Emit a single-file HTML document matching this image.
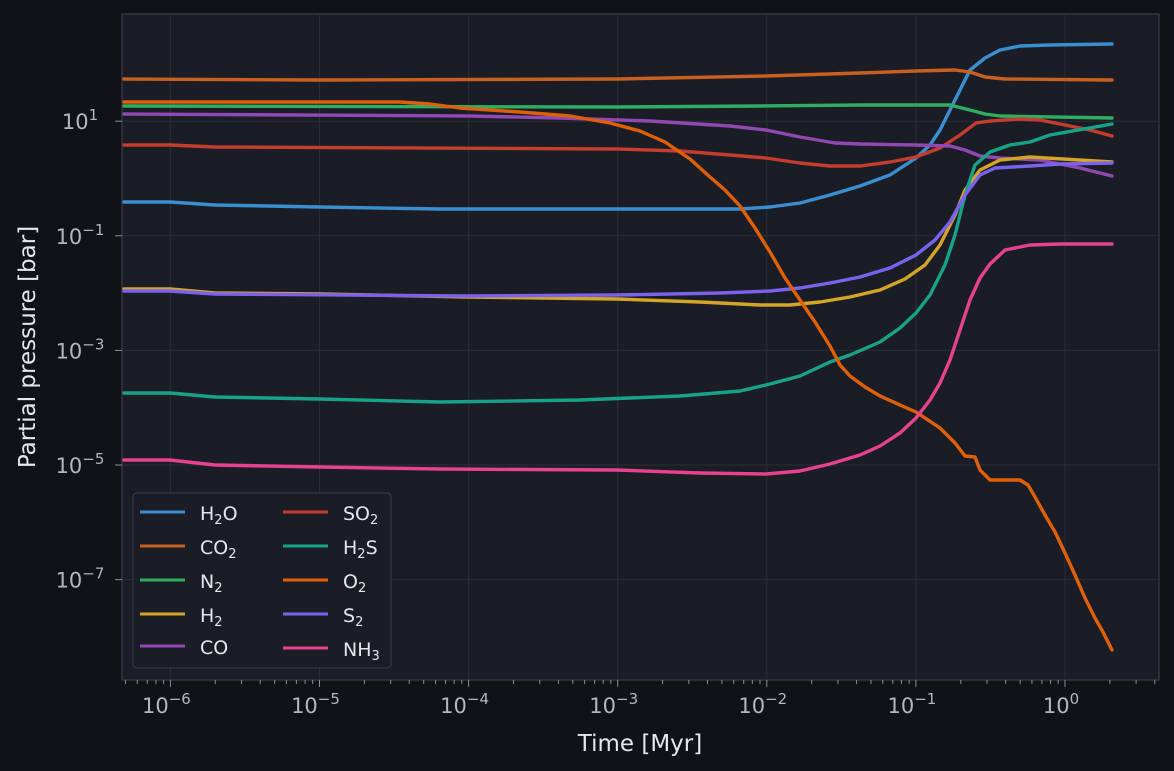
<!DOCTYPE html><html><head><meta charset="utf-8"><style>
html,body{margin:0;background:#111217;width:1174px;height:771px;overflow:hidden;font-family:"Liberation Sans","DejaVu Sans",sans-serif}
svg{display:block}
</style></head><body>
<svg id="s" width="1174" height="771" xmlns="http://www.w3.org/2000/svg" font-family="DejaVu Sans, Liberation Sans, sans-serif">
<rect width="1174" height="771" fill="#111217"/>
<rect x="122" y="14" width="1037" height="666" fill="#1b1d26" stroke="#3a3d4b" stroke-width="1.2"/>
<g id="grid" stroke="#2a2d38" stroke-width="1"></g>
<g id="ticks" stroke="#8a8d96" stroke-width="1"></g>
<g id="lbl" fill="#b4b7bf" font-size="21"></g>
<g fill="none" stroke-width="3.4" stroke-linejoin="round" stroke-linecap="round">
<polyline stroke="#3a8fd0" points="124,202 170,202 215,205 320,207 440,209 617,209 740,209 770,207 800,203 830,195 860,186 890,175 916,158 930,145 940,130 950,110 960,90 970,70 985,58 1000,50 1020,46 1050,45 1112,44"/>
<polyline stroke="#c9601f" points="124,79 320,80 617,79 766,76 860,73 916,71 955,70 970,72 985,77 1005,79 1112,80"/>
<polyline stroke="#2eae62" points="124,106 617,107 760,106 860,105 950,105 970,110 985,114 1000,116 1112,118"/>
<polyline stroke="#c43d2d" points="124,145 170,145 215,147 617,149 680,151 730,155 766,158 800,163 830,166 860,166 890,162 916,157 940,148 960,135 976,123 990,121 1020,119 1040,120 1060,124 1090,130 1112,136"/>
<polyline stroke="#9048b2" points="124,114 300,115 470,116 560,118 650,121 730,126 766,130 800,137 835,143 860,144 916,145 950,146 965,150 980,156 1000,158 1040,160 1080,168 1112,176"/>
<polyline stroke="#d4a526" points="124,289 170,289 215,293 320,294 468,297 617,299 700,302 760,305 790,305 820,302 850,297 880,290 905,279 925,265 940,245 955,215 965,190 980,170 1000,160 1030,157 1112,162"/>
<polyline stroke="#17a387" points="124,393 170,393 215,397 320,399 440,402 580,400 680,396 740,391 770,384 800,376 830,362 850,355 880,342 900,328 916,313 930,295 945,265 955,235 965,195 975,165 990,152 1010,145 1030,142 1050,135 1112,124"/>
<polyline stroke="#7b62ee" points="124,291 170,291 215,294 468,296 617,295 720,293 770,291 800,288 830,283 860,277 890,268 916,255 935,240 950,222 965,195 980,175 995,168 1030,166 1060,164 1112,163"/>
<polyline stroke="#e0600a" points="124,102 320,102 400,102 430,104 460,108 520,112 570,116 610,123 640,131 665,142 690,159 710,177 725,190 740,206 755,228 770,252 785,278 800,300 815,322 830,346 840,365 850,376 865,387 880,396 900,405 916,412 940,428 955,443 965,456 975,457 980,470 990,480 1020,480 1028,485 1035,497 1045,515 1055,532 1065,553 1075,575 1085,598 1095,618 1103,632 1112,650"/>
<polyline stroke="#e8428f" points="124,460 170,460 215,465 320,467 440,469 617,470 700,473 766,474 800,471 830,464 860,455 880,446 900,433 916,418 930,400 940,383 950,360 960,330 970,300 980,278 990,264 1005,250 1030,245 1060,244 1112,244"/>
</g>
<rect x="133" y="493" width="258" height="175" rx="4" fill="#1b1d26" stroke="#34374a" stroke-width="1.2" fill-opacity="0.95"/>
<g stroke-width="3">
<line x1="140" y1="512" x2="185" y2="512" stroke="#3a8fd0"/>
<line x1="140" y1="546" x2="185" y2="546" stroke="#c9601f"/>
<line x1="140" y1="580" x2="185" y2="580" stroke="#2eae62"/>
<line x1="140" y1="614" x2="185" y2="614" stroke="#d4a526"/>
<line x1="140" y1="646" x2="185" y2="646" stroke="#9048b2"/>
<line x1="283" y1="512" x2="328" y2="512" stroke="#c43d2d"/>
<line x1="283" y1="546" x2="328" y2="546" stroke="#17a387"/>
<line x1="283" y1="580" x2="328" y2="580" stroke="#e0600a"/>
<line x1="283" y1="614" x2="328" y2="614" stroke="#7b62ee"/>
<line x1="283" y1="648" x2="328" y2="648" stroke="#e8428f"/>
</g>
<g fill="#e6e7ea" font-size="19">
<text x="200" y="520">H<tspan font-size="13" dy="4">2</tspan><tspan dy="-4">O</tspan></text>
<text x="200" y="554">CO<tspan font-size="13" dy="4">2</tspan></text>
<text x="200" y="588">N<tspan font-size="13" dy="4">2</tspan></text>
<text x="200" y="622">H<tspan font-size="13" dy="4">2</tspan></text>
<text x="200" y="654">CO</text>
<text x="343" y="520">SO<tspan font-size="13" dy="4">2</tspan></text>
<text x="343" y="554">H<tspan font-size="13" dy="4">2</tspan><tspan dy="-4">S</tspan></text>
<text x="343" y="588">O<tspan font-size="13" dy="4">2</tspan></text>
<text x="343" y="622">S<tspan font-size="13" dy="4">2</tspan></text>
<text x="343" y="656">NH<tspan font-size="13" dy="4">3</tspan></text>
</g>
<text x="640" y="751" fill="#e6e7ea" font-size="23" text-anchor="middle">Time [Myr]</text>
<text transform="translate(35,347) rotate(-90)" fill="#e6e7ea" font-size="23" text-anchor="middle">Partial pressure [bar]</text>
</svg>
<script>
var NS="http://www.w3.org/2000/svg";
function el(p,t,a,txt){var e=document.createElementNS(NS,t);for(var k in a)e.setAttribute(k,a[k]);if(txt!==undefined)e.innerHTML=txt;document.getElementById(p).appendChild(e);}
function X(l){return 1065+149.1*l;}
function Y(l){return 178.5-57.3*l;}
for(var d=-7;d<=0;d++){
 for(var m=1;m<10;m++){var x=X(d+Math.log10(m));if(x<123||x>1158)continue;
  if(m==1){el("grid","line",{x1:x,y1:15,x2:x,y2:679});el("ticks","line",{x1:x,y1:680,x2:x,y2:687});
   el("lbl","text",{x:x-4,y:713,"text-anchor":"middle"},"10<tspan font-size='15' dy='-9'>"+(d<0?"\u2212"+(-d):d)+"</tspan>");}
  else el("ticks","line",{x1:x,y1:680,x2:x,y2:684});}
}
for(var d=-8;d<=2;d++){var y=Y(d);if(y<15||y>679)continue;
 if(d%2!=0){el("ticks","line",{x1:115,y1:y,x2:122,y2:y});el("grid","line",{x1:123,y1:y,x2:1158,y2:y});
  el("lbl","text",{x:80,y:y+8,"text-anchor":"middle"},"10<tspan font-size='15' dy='-9'>"+(d<0?"\u2212"+(-d):d)+"</tspan>");}
}
</script>
</body></html>
